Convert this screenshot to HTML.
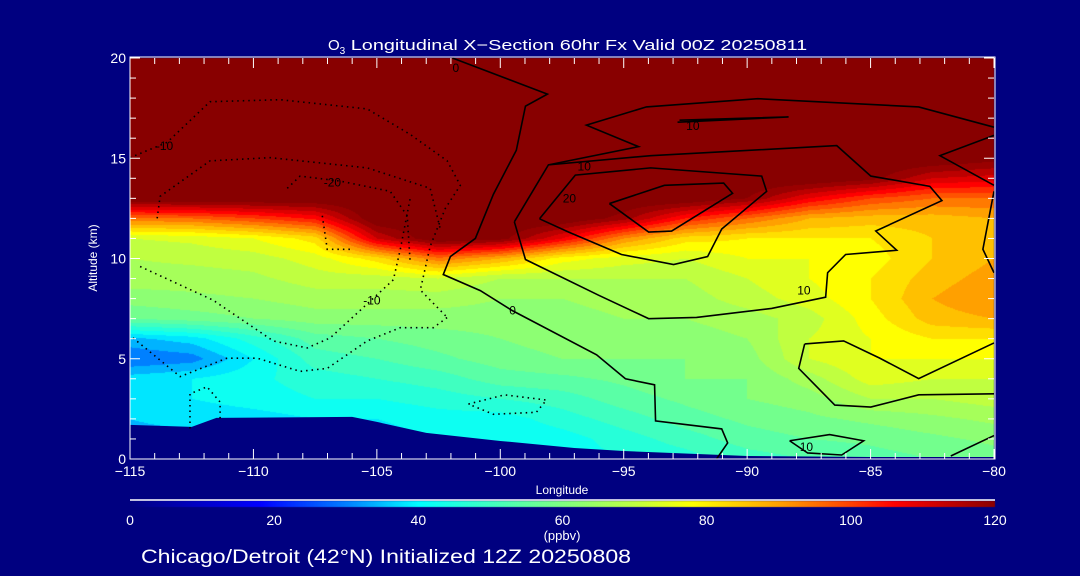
<!DOCTYPE html>
<html><head><meta charset="utf-8">
<style>
html,body{margin:0;padding:0;background:#000080;}
#wrap{position:relative;width:1080px;height:576px;overflow:hidden;background:#000080;font-family:"Liberation Sans",sans-serif;}
canvas,svg{position:absolute;left:0;top:0;}
</style></head>
<body>
<div id="wrap">
<canvas id="heat" width="1080" height="576"></canvas>
<svg id="ov" width="1080" height="576" xmlns="http://www.w3.org/2000/svg"></svg>
</div>
<script>
// ---- data ----
const lons = [-115,-112.5,-110,-107.5,-105,-102.5,-100,-97.5,-95,-92.5,-90,-87.5,-85,-82.5,-80];
const alts = [0,1,2,3,4,5,6,7,8,9,10,11,12,13,14,15,16,17,18,19,20];
const ozoneByLon = [
 [35,35,36,38,38,28,35,56,62,66,68,72,95,125,125,125,125,125,125,125,125],
 [35,35,37,40,40,30,38,58,63,66,69,73,96,125,125,125,125,125,125,125,125],
 [36,36,38,42,43,40,46,60,64,67,70,76,100,125,125,125,125,125,125,125,125],
 [38,38,40,44,46,50,54,62,66,70,74,82,105,125,125,125,125,125,125,125,125],
 [38,38,40,44,48,52,56,62,66,70,82,112,125,125,125,125,125,125,125,125,125],
 [40,40,42,46,50,55,58,62,66,72,95,125,125,125,125,125,125,125,125,125,125],
 [40,40,42,48,54,58,60,62,64,68,88,122,125,125,125,125,125,125,125,125,125],
 [42,42,46,50,55,60,62,62,64,68,78,108,125,125,125,125,125,125,125,125,125],
 [44,46,50,54,57,60,62,64,66,68,74,92,118,125,125,125,125,125,125,125,125],
 [46,50,54,57,60,60,62,64,66,68,72,82,104,125,125,125,125,125,125,125,125],
 [50,54,57,60,60,62,64,66,70,72,76,80,96,120,125,125,125,125,125,125,125],
 [52,56,59,62,66,72,72,70,74,76,76,80,88,108,125,125,125,125,125,125,125],
 [54,57,61,68,74,76,76,78,80,80,78,80,86,100,122,125,125,125,125,125,125],
 [56,59,63,68,72,76,80,86,88,86,84,84,86,96,112,125,125,125,125,125,125],
 [58,61,65,70,72,76,80,88,92,90,88,86,88,96,110,122,125,125,125,125,125]
];
const terrainLon = [-115,-112.5,-111.5,-106,-105,-103,-100,-97,-95,-90,-85,-80];
const terrainAlt = [1.7,1.6,2.05,2.1,1.85,1.3,0.9,0.55,0.4,0.15,0.1,0.1];
const xTicks = [-115,-110,-105,-100,-95,-90,-85,-80];
const yTicks = [0,5,10,15,20];
const cbTicks = [0,20,40,60,80,100,120];

const contourSolid = [
 [[-101.94,20],[-98.09,18.2],[-98.98,17.6],[-99.35,15.4],[-100.28,13.2],[-101.01,11.0],[-102.02,10.1],[-102.31,9.2],[-100.81,8.4],[-99.51,7.4],[-96.10,5.2],[-94.93,4.0],[-93.75,3.7],[-93.71,1.9],[-91.03,1.5],[-90.79,0.8],[-91.24,0.0]],
 [[-99.43,11.83],[-98.05,14.67],[-93.91,15.13],[-86.37,15.63],[-84.99,14.11],[-82.60,13.60],[-82.11,12.89],[-84.79,11.37],[-83.94,10.41],[-86.01,10.20],[-86.74,9.29],[-86.82,8.07],[-89.01,7.51],[-92.05,7.06],[-93.99,7.00],[-96.02,8.17],[-98.98,9.95],[-99.43,11.83]],
 [[-98.41,11.98],[-96.96,14.16],[-93.91,14.52],[-89.41,14.11],[-89.21,13.35],[-91.03,11.47],[-91.60,10.10],[-92.98,9.70],[-95.09,10.20],[-97.24,11.32],[-98.41,11.98]],
 [[-95.58,12.74],[-93.99,11.32],[-93.06,11.37],[-90.59,13.25],[-90.95,13.76],[-93.35,13.65],[-95.58,12.74]],
 [[-80,16.55],[-83.05,17.56],[-89.57,17.97],[-94.08,17.56],[-96.51,16.65],[-94.40,15.58],[-98.05,14.67]],
 [[-92.82,16.8],[-88.32,17.06],[-92.74,16.9]],
 [[-80,16.14],[-82.19,15.13],[-80,13.65]],
 [[-80,13.35],[-80.45,10.46],[-80,9.29]],
 [[-87.67,5.74],[-87.91,4.52],[-86.45,2.69],[-84.99,2.59],[-83.05,3.20],[-80,3.25]],
 [[-87.67,5.74],[-86.09,5.89],[-84.63,5.03],[-83.05,4.01],[-80,5.79]],
 [[-88.28,0.91],[-86.66,1.22],[-85.28,0.91],[-86.17,0.2],[-87.55,0.3],[-88.28,0.91]],
 [[-81.75,0.15],[-80,1.17]]
];
const contourDotted = [
 [[-115,15.03],[-113.50,15.79],[-111.76,17.82],[-108.92,17.92],[-105.39,17.46],[-103.65,16.19],[-102.15,14.87],[-101.62,13.65],[-102.23,12.49],[-102.84,10.61],[-103.24,8.43],[-102.15,7.06]],
 [[-114.88,6.04],[-112.97,4.11],[-111.07,5.03],[-109.85,5.03],[-108.11,4.37],[-107.01,4.52],[-105.39,5.89],[-104.05,6.55],[-102.71,6.55],[-102.15,7.06]],
 [[-114.59,9.6],[-111.63,7.92],[-109.20,5.89],[-107.82,5.54],[-106.89,6.04],[-105.67,7.42],[-104.33,8.94],[-104.05,10.46],[-103.65,13.0]],
 [[-113.9,12.0],[-113.78,13.1],[-111.76,14.87],[-109.32,15.03],[-105.39,14.52],[-102.84,13.5],[-102.43,11.47]],
 [[-108.63,13.5],[-108.11,14.11],[-106.48,13.86],[-104.46,13.35],[-103.77,12.13],[-103.65,9.8]],
 [[-107.21,12.13],[-107.01,10.46],[-105.96,10.46]],
 [[-112.57,1.52],[-112.57,3.25],[-111.88,3.60],[-111.35,2.84],[-111.35,1.98]],
 [[-101.29,2.74],[-99.83,3.2],[-98.13,2.94],[-98.54,2.33],[-100.28,2.23],[-101.29,2.74]]
];
const contourLabelText = ["0","-10","-20","-10","0","10","20","10","10","10"];
const contourLabelLon = [-101.8,-113.6,-106.8,-105.2,-99.5,-96.6,-97.2,-92.2,-87.7,-87.6];
const contourLabelAlt = [19.5,15.6,13.8,7.9,7.4,14.6,13.0,16.6,8.4,0.6];

// ---- axes ----
const PL=130, PR=994, PT=58, PB=459;
function xs(lon){return PL+(lon+115)/35*(PR-PL);}
function ys(a){return PB-a/20*(PB-PT);}

const stops=[[0,0,0,128],[10,0,0,200],[18,0,0,255],[30,0,128,255],[40,0,255,255],[50,64,255,192],[60,128,255,128],[70,192,255,64],[78,255,255,0],[90,255,160,0],[100,255,64,0],[106,255,0,0],[115,180,0,0],[120,136,0,0]];
function cmap(v){
  if(v<=0)return [0,0,128]; if(v>=120)return [136,0,0];
  for(let i=1;i<stops.length;i++){if(v<=stops[i][0]){const a=stops[i-1],b=stops[i],t=(v-a[0])/(b[0]-a[0]);return [0,1,2].map(k=>Math.round(a[k+1]+t*(b[k+1]-a[k+1])));}}
  return [136,0,0];
}
function val(lon,a){
  let i=Math.max(0,Math.min(lons.length-2,Math.floor((lon-lons[0])/2.5)));
  let j=Math.max(0,Math.min(alts.length-2,Math.floor(a)));
  const tx=Math.max(0,Math.min(1,(lon-lons[i])/(lons[i+1]-lons[i]))), ty=Math.max(0,Math.min(1,a-alts[j]));
  const v00=ozoneByLon[i][j],v10=ozoneByLon[i+1][j],v01=ozoneByLon[i][j+1],v11=ozoneByLon[i+1][j+1];
  return v00*(1-tx)*(1-ty)+v10*tx*(1-ty)+v01*(1-tx)*ty+v11*tx*ty;
}
const cv=document.getElementById('heat'),ctx=cv.getContext('2d');
const img=ctx.createImageData(PR-PL,PB-PT);
for(let py=0;py<PB-PT;py++){const a=(PB-(PT+py+0.5))/(PB-PT)*20;
  for(let px=0;px<PR-PL;px++){const lon=-115+(px+0.5)/(PR-PL)*35;
    let v=val(lon,a); v=Math.min(120,Math.floor(v/4)*4+2);
    const c=cmap(v),k=(py*(PR-PL)+px)*4; img.data[k]=c[0];img.data[k+1]=c[1];img.data[k+2]=c[2];img.data[k+3]=255;}}
ctx.putImageData(img,PL,PT);
for(let px=0;px<865;px++){const c=cmap(px/865*120);ctx.fillStyle=`rgb(${c[0]},${c[1]},${c[2]})`;ctx.fillRect(130+px,501,1,6);}

const svg=document.getElementById('ov'),NS='http://www.w3.org/2000/svg';
function mk(tag,attrs,parent){const e=document.createElementNS(NS,tag);for(const k in attrs)e.setAttribute(k,attrs[k]);(parent||svg).appendChild(e);return e;}
let tp=`M${xs(-115)},${PB} `+terrainLon.map((l,i)=>`L${xs(l)},${ys(terrainAlt[i])}`).join(' ')+` L${xs(-80)},${PB} Z`;
const terr=mk('path',{d:tp,fill:'#000080'});


contourSolid.forEach(c=>{const p=mk('polyline',{points:c.map(q=>xs(q[0])+','+ys(q[1])).join(' '),fill:'none',stroke:'#000','stroke-width':1.6});
 
 });
contourDotted.forEach(c=>{const p=mk('polyline',{points:c.map(q=>xs(q[0])+','+ys(q[1])).join(' '),fill:'none',stroke:'#000','stroke-width':1.6,'stroke-dasharray':'1.5,4'});
 
 });
contourLabelText.forEach((t,i)=>{const e=mk('text',{x:xs(contourLabelLon[i]),y:ys(contourLabelAlt[i])+4,'font-size':12,fill:'#000','text-anchor':'middle'});e.textContent=t;
 
 });
const fr=mk('rect',{x:PL,y:PT-1,width:PR-PL+1,height:PB-PT+1,fill:'none',stroke:'#fff','stroke-width':1});


for(let l=-115;l<=-80;l++){const major=(l%5===0);mk('line',{x1:xs(l),x2:xs(l),y1:PB,y2:PB-(major?10:6),stroke:'#fff'});mk('line',{x1:xs(l),x2:xs(l),y1:PT,y2:PT+(major?10:6),stroke:'#fff'});}
xTicks.forEach(l=>{const e=mk('text',{x:xs(l),y:476,'font-size':14,fill:'#fff','text-anchor':'middle'});e.textContent=(l<0?'\u2212'+(-l):l);
 
 });
for(let a=0;a<=20;a++){const major=(a%5===0);mk('line',{x1:PL,x2:PL+(major?10:6),y1:ys(a),y2:ys(a),stroke:'#fff'});mk('line',{x1:PR,x2:PR-(major?10:6),y1:ys(a),y2:ys(a),stroke:'#fff'});}
yTicks.forEach(a=>{const e=mk('text',{x:126,y:ys(a)+5,'font-size':14,fill:'#fff','text-anchor':'end'});e.textContent=a;
 
 });
mk('line',{x1:130,x2:995,y1:500,y2:500,stroke:'#fff','stroke-width':1.5});
cbTicks.forEach(v=>{const e=mk('text',{x:130+v/120*865,y:525,'font-size':14,fill:'#fff','text-anchor':'middle'});e.textContent=v;
 
 });
</script>
<svg width="1080" height="576" style="position:absolute;left:0;top:0;pointer-events:none" xmlns="http://www.w3.org/2000/svg">
<text x="328" y="50" font-size="15" fill="#fff" font-family="Liberation Sans, sans-serif">O<tspan font-size="10" dy="4">3</tspan><tspan dy="-4" textLength="462" lengthAdjust="spacingAndGlyphs"> Longitudinal X−Section 60hr  Fx Valid 00Z 20250811</tspan></text>
<text x="562" y="494" font-size="12" fill="#fff" text-anchor="middle" font-family="Liberation Sans, sans-serif">Longitude</text>
<text x="0" y="0" font-size="12" fill="#fff" text-anchor="middle" transform="translate(97,258) rotate(-90)" font-family="Liberation Sans, sans-serif">Altitude (km)</text>
<text x="562" y="540" font-size="13" fill="#fff" text-anchor="middle" font-family="Liberation Sans, sans-serif">(ppbv)</text>
<text x="141" y="563" font-size="19" fill="#fff" textLength="490" lengthAdjust="spacingAndGlyphs" font-family="Liberation Sans, sans-serif">Chicago/Detroit (42°N) Initialized 12Z 20250808</text>
</svg>
</body></html>
